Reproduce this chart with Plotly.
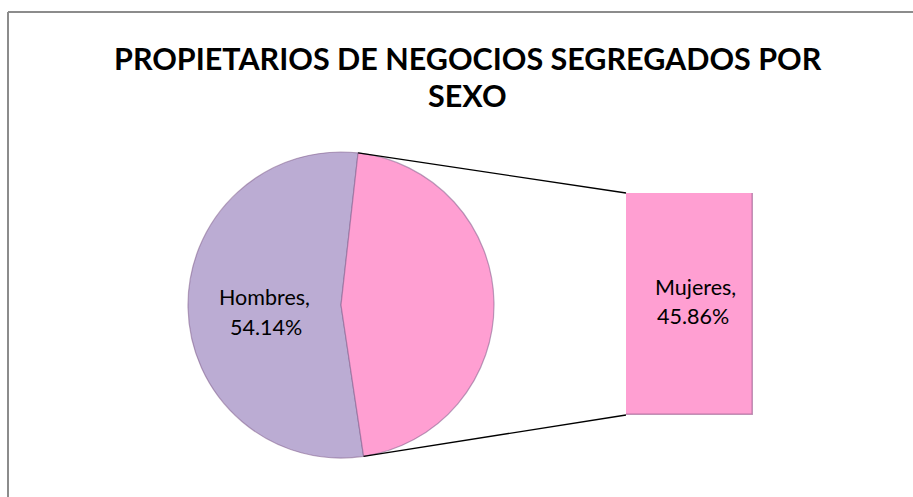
import math
import plotly.graph_objects as go

# ---- data ----
categories = ["Hombres", "Mujeres"]
shares = [54.14, 45.86]
pie_colors = ["#BBACD3", "#FF9FD2"]
title_lines = ["PROPIETARIOS DE NEGOCIOS SEGREGADOS POR", "SEXO"]

# ---- layout geometry (pixels) ----
W, H = 913, 497
cx, cy, r = 341, 305, 153
bar_x0, bar_x1, bar_y0, bar_y1 = 626, 753, 193, 415
rotation = 171.5


def px(x):
    return x / W


def py(y):
    return 1 - y / H


fig = go.Figure()

fig.add_trace(go.Pie(
    labels=categories,
    values=shares,
    sort=False,
    direction="clockwise",
    rotation=rotation,
    marker=dict(colors=pie_colors, line=dict(color="rgba(130,95,140,0.55)", width=1.2)),
    textinfo="none",
    hoverinfo="label+percent",
    showlegend=False,
    domain=dict(x=[px(cx - r), px(cx + r)], y=[py(cy + r), py(cy - r)]),
))

fig.add_trace(go.Bar(
    x=[categories[1]],
    y=[shares[1]],
    width=[1],
    marker=dict(color=pie_colors[1], line=dict(color="rgba(150,90,140,0.6)", width=1.5)),
    textposition="none",
    showlegend=False,
    hovertemplate="%{x}: %{y:.2f}%<extra></extra>",
))

# connector (series) lines from pie split points to bar corners
total = sum(shares)
a_bottom = math.radians(rotation)
a_top = math.radians(rotation + 360 * shares[0] / total)


def pie_point(a):
    return cx + r * math.sin(a), cy - r * math.cos(a)


tx, ty = pie_point(a_top)
bx, by = pie_point(a_bottom)

shapes = [
    dict(type="line", xref="paper", yref="paper", x0=px(tx), y0=py(ty), x1=px(bar_x0), y1=py(bar_y0),
         line=dict(color="black", width=1.3)),
    dict(type="line", xref="paper", yref="paper", x0=px(bx), y0=py(by), x1=px(bar_x0), y1=py(bar_y1),
         line=dict(color="black", width=1.3)),
    # chart border (top and left visible)
    dict(type="line", xref="paper", yref="paper", x0=px(8), y0=py(12), x1=1.02, y1=py(12),
         line=dict(color="#8c8c8c", width=2)),
    dict(type="line", xref="paper", yref="paper", x0=px(8), y0=py(12), x1=px(8), y1=-0.02,
         line=dict(color="#8c8c8c", width=2)),
]

label_font = dict(family="Lato", size=21.5, color="black")
title_font = dict(family="Lato", size=30.5, color="black", weight=700)


def ann(text, x, y, font):
    return dict(text=text, xref="paper", yref="paper", x=px(x), y=py(y), xanchor="center",
                yanchor="middle", showarrow=False, font=font)


annotations = [
    ann(title_lines[0], 468, 58, title_font),
    ann(title_lines[1], 468, 95, title_font),
    ann(f"{categories[0]},", 264, 297, label_font),
    ann(f"{shares[0]:.2f}%", 266, 327, label_font),
    ann(f"{categories[1]},", 695, 287, label_font),
    ann(f"{shares[1]:.2f}%", 693, 316, label_font),
]

fig.update_layout(
    width=W, height=H,
    margin=dict(l=0, r=0, t=0, b=0),
    paper_bgcolor="white",
    plot_bgcolor="rgba(0,0,0,0)",
    bargap=0,
    xaxis=dict(domain=[px(bar_x0), px(bar_x1)], range=[-0.5, 0.5], visible=False, fixedrange=True),
    yaxis=dict(domain=[py(bar_y1), py(bar_y0)], range=[0, shares[1]], visible=False, fixedrange=True),
    shapes=shapes,
    annotations=annotations,
)

fig.write_html("out.html", config={"displayModeBar": False},
               post_script="document.body.style.margin='0';")
